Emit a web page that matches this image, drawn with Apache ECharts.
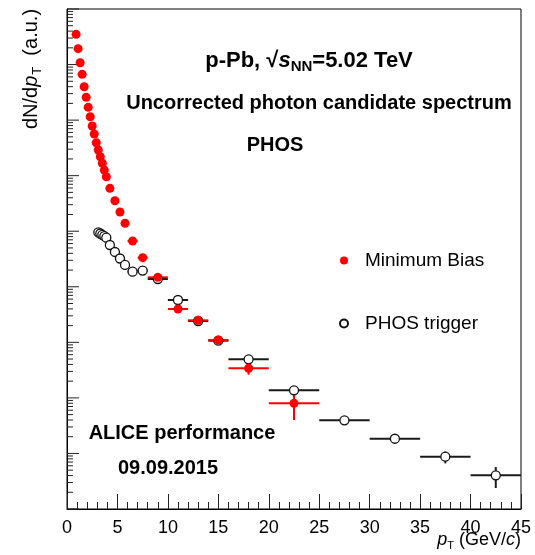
<!DOCTYPE html>
<html>
<head>
<meta charset="utf-8">
<script src="https://cdn.jsdelivr.net/npm/echarts@6/dist/echarts.min.js"></script>
<style>
  html, body { margin: 0; padding: 0; background: #fff; }
  #chart { width: 535px; height: 555px; }
</style>
</head>
<body>
<div id="chart"></div>
<script>
// Minimum Bias: bin centre, bin edges, yield (a.u.), vertical error
const mbPt    = [0.9, 1.1, 1.3, 1.5, 1.7, 1.9, 2.1, 2.3, 2.5, 2.7, 2.9, 3.1, 3.3, 3.5, 3.7, 3.9,
                 4.25, 4.75, 5.25, 5.75, 6.5, 7.5, 9, 11, 13, 15, 18, 22.5];
const mbLow   = [0.8, 1.0, 1.2, 1.4, 1.6, 1.8, 2.0, 2.2, 2.4, 2.6, 2.8, 3.0, 3.2, 3.4, 3.6, 3.8,
                 4.0, 4.5, 5.0, 5.5, 6, 7, 8, 10, 12, 14, 16, 20];
const mbHigh  = [1.0, 1.2, 1.4, 1.6, 1.8, 2.0, 2.2, 2.4, 2.6, 2.8, 3.0, 3.2, 3.4, 3.6, 3.8, 4.0,
                 4.5, 5.0, 5.5, 6, 7, 8, 10, 12, 14, 16, 20, 25];
const mbYield = [3.50e8, 1.93e8, 1.08e8, 6.67e7, 3.99e7, 2.57e7, 1.70e7, 1.15e7, 7.82e6, 5.62e6,
                 3.92e6, 2.90e6, 2.19e6, 1.67e6, 1.26e6, 9.57e5, 5.92e5, 3.54e5, 2.22e5, 1.39e5,
                 6.67e4, 3.34e4, 1.48e4, 3.98e3, 2.49e3, 1.10e3, 341, 79.9];
const mbErr   = [0, 0, 0, 0, 0, 0, 0, 0, 0, 0, 0, 0, 0, 0, 0, 0,
                 0, 0, 0, 0, 0, 0, 400, 300, 150, 100, 80, 40];

// PHOS trigger
const phosPt    = [3.1, 3.3, 3.5, 3.7, 3.9, 4.25, 4.75, 5.25, 5.75, 6.5, 7.5, 9, 11, 13, 15, 18,
                   22.5, 27.5, 32.5, 37.5, 42.5];
const phosLow   = [3.0, 3.2, 3.4, 3.6, 3.8, 4.0, 4.5, 5.0, 5.5, 6, 7, 8, 10, 12, 14, 16,
                   20, 25, 30, 35, 40];
const phosHigh  = [3.2, 3.4, 3.6, 3.8, 4.0, 4.5, 5.0, 5.5, 6, 7, 8, 10, 12, 14, 16, 20,
                   25, 30, 35, 40, 45];
const phosYield = [9.55e4, 9.10e4, 8.61e4, 8.13e4, 7.64e4, 5.65e4, 4.23e4, 3.23e4, 2.47e4,
                   1.87e4, 1.96e4, 1.38e4, 5.78e3, 2.42e3, 1.07e3, 494, 137, 39.5, 18.4, 8.73, 4.04];
const phosErr   = [0, 0, 0, 0, 0, 0, 0, 0, 0, 0, 0, 100, 80, 50, 30, 20, 10, 4, 2.5, 2.1, 1.65];

// x axis: ticks and labels
const xTicks = [0, 5, 10, 15, 20, 25, 30, 35, 40, 45];
// y axis: decades shown and minor-tick multipliers inside each decade
const yDecades = [0, 1, 2, 3, 4, 5, 6, 7, 8, 9];
const yMinorMultipliers = [2, 3, 4, 5, 6, 7, 8, 9];

const FONT = '"Liberation Sans", Arial, Helvetica, sans-serif';

const yTickValues = [];
yDecades.forEach(function (d) {
  yTickValues.push([Math.pow(10, d), 1]);
  if (d < yDecades[yDecades.length - 1]) {
    yMinorMultipliers.forEach(function (m) { yTickValues.push([m * Math.pow(10, d), 0]); });
  }
});

function rows(pt, y, lo, hi, err) {
  return pt.map(function (p, i) { return [p, y[i], lo[i], hi[i], err[i]]; });
}

function errorBars(color) {
  return function (params, api) {
    const x = api.value(0), y = api.value(1), lo = api.value(2), hi = api.value(3), e = api.value(4);
    const a = api.coord([lo, y]), b = api.coord([hi, y]);
    const kids = [{
      type: 'line',
      shape: { x1: a[0], y1: a[1], x2: b[0], y2: b[1] },
      style: { stroke: color, lineWidth: 2 }
    }];
    if (e > 0) {
      const t = api.coord([x, y + e]);
      const s = api.coord([x, Math.max(y - e, 1e-3)]);
      kids.push({
        type: 'line',
        shape: { x1: t[0], y1: t[1], x2: s[0], y2: s[1] },
        style: { stroke: color, lineWidth: 2 }
      });
    }
    return { type: 'group', children: kids };
  };
}

const chart = echarts.init(document.getElementById('chart'), null, { renderer: 'canvas' });

chart.setOption({
  animation: false,
  backgroundColor: '#fff',
  grid: {
    left: 67, right: 14, top: 9, bottom: 46,
    show: true, borderColor: '#000', borderWidth: 1, backgroundColor: 'transparent'
  },
  xAxis: {
    type: 'value', min: xTicks[0], max: xTicks[xTicks.length - 1], interval: 5,
    axisLine: { show: true, onZero: false, lineStyle: { color: '#000', width: 1 } },
    axisTick: { show: true, inside: true, length: 15, lineStyle: { color: '#222', width: 1 } },
    minorTick: { show: true, splitNumber: 5, length: 7, lineStyle: { color: '#222', width: 1 } },
    splitLine: { show: false },
    axisLabel: { show: true, color: '#000', fontSize: 18, fontFamily: FONT, margin: 10,
                 showMinLabel: true, showMaxLabel: true }
  },
  yAxis: {
    type: 'log', logBase: 10, min: 1, max: 1e9,
    axisLine: { show: true, lineStyle: { color: '#000', width: 1 } },
    axisTick: { show: false },
    axisLabel: { show: false },
    splitLine: { show: false }
  },
  legend: {
    orient: 'vertical', left: 334, top: 246, itemGap: 44,
    itemWidth: 8, itemHeight: 8,
    data: ['Minimum Bias', 'PHOS trigger'],
    textStyle: { fontSize: 19, fontFamily: FONT, color: '#000', padding: [0, 0, 0, 12] }
  },
  series: [
    {
      type: 'custom', name: 'yTicks', silent: true, z: 1,
      data: yTickValues,
      encode: { x: -1, y: 0 },
      renderItem: function (params, api) {
        const p = api.coord([0, api.value(0)]);
        const len = api.value(1) ? 12 : 6;
        return {
          type: 'line',
          shape: { x1: p[0], y1: p[1], x2: p[0] + len, y2: p[1] },
          style: { stroke: '#222', lineWidth: 1 }
        };
      },
      clip: false
    },
    {
      type: 'custom', name: 'phosErr', silent: true, z: 2,
      data: rows(phosPt, phosYield, phosLow, phosHigh, phosErr),
      encode: { x: 0, y: 1 },
      renderItem: errorBars('#1a1a1a')
    },
    {
      type: 'custom', name: 'mbErr', silent: true, z: 3,
      data: rows(mbPt, mbYield, mbLow, mbHigh, mbErr),
      encode: { x: 0, y: 1 },
      renderItem: errorBars('#ff0000')
    },
    {
      type: 'scatter', name: 'PHOS trigger', z: 4,
      symbol: 'circle', symbolSize: 9,
      data: phosPt.map(function (p, i) { return [p, phosYield[i]]; }),
      itemStyle: { color: '#fff', borderColor: '#111', borderWidth: 1.3, opacity: 1 }
    },
    {
      type: 'scatter', name: 'Minimum Bias', z: 5,
      symbol: 'circle', symbolSize: 9,
      data: mbPt.map(function (p, i) { return [p, mbYield[i]]; }),
      itemStyle: { color: '#ff0000', opacity: 1 }
    }
  ],
  graphic: [
    {
      type: 'text', x: 31, y: 69, rotation: Math.PI / 2,
      style: {
        text: '{n|dN/d}{i|p}{s|T}{n|  (a.u.)}',
        align: 'center', verticalAlign: 'middle',
        rich: {
          n: { fontSize: 20, fontFamily: FONT, fill: '#000', lineHeight: 22 },
          i: { fontSize: 20, fontFamily: FONT, fontStyle: 'italic', fill: '#000', lineHeight: 22 },
          s: { fontSize: 13, fontFamily: FONT, fill: '#000', lineHeight: 14, padding: [12, 0, 0, 1] }
        }
      }
    },
    {
      type: 'text', x: 521, y: 540,
      style: {
        text: '{i|p}{s|T}{n| (GeV/}{i|c}{n|)}',
        align: 'right', verticalAlign: 'middle',
        rich: {
          n: { fontSize: 18, fontFamily: FONT, fill: '#000', lineHeight: 20 },
          i: { fontSize: 18, fontFamily: FONT, fontStyle: 'italic', fill: '#000', lineHeight: 20 },
          s: { fontSize: 11, fontFamily: FONT, fill: '#000', lineHeight: 12, padding: [12, 0, 0, 0] }
        }
      }
    },
    {
      type: 'text', x: 309, y: 61,
      style: {
        text: '{b|p-Pb, √}{bi|s}{s|NN}{b|=5.02 TeV}',
        align: 'center', verticalAlign: 'middle',
        rich: {
          b: { fontSize: 22, fontWeight: 'bold', fontFamily: FONT, fill: '#000', lineHeight: 26 },
          bi: { fontSize: 22, fontWeight: 'bold', fontStyle: 'italic', fontFamily: FONT, fill: '#000', lineHeight: 26 },
          s: { fontSize: 15, fontWeight: 'bold', fontFamily: FONT, fill: '#000', lineHeight: 16, padding: [12, 0, 0, 0] }
        }
      }
    },
    {
      type: 'text', x: 319, y: 103,
      style: { text: 'Uncorrected photon candidate spectrum', align: 'center', verticalAlign: 'middle',
               fontSize: 20, fontWeight: 'bold', fontFamily: FONT, fill: '#000' }
    },
    {
      type: 'text', x: 275, y: 145,
      style: { text: 'PHOS', align: 'center', verticalAlign: 'middle',
               fontSize: 20, fontWeight: 'bold', fontFamily: FONT, fill: '#000' }
    },
    {
      type: 'text', x: 182, y: 433,
      style: { text: 'ALICE performance', align: 'center', verticalAlign: 'middle',
               fontSize: 20, fontWeight: 'bold', fontFamily: FONT, fill: '#000' }
    },
    {
      type: 'text', x: 168, y: 468,
      style: { text: '09.09.2015', align: 'center', verticalAlign: 'middle',
               fontSize: 20, fontWeight: 'bold', fontFamily: FONT, fill: '#000' }
    }
  ]
});
</script>
</body>
</html>
